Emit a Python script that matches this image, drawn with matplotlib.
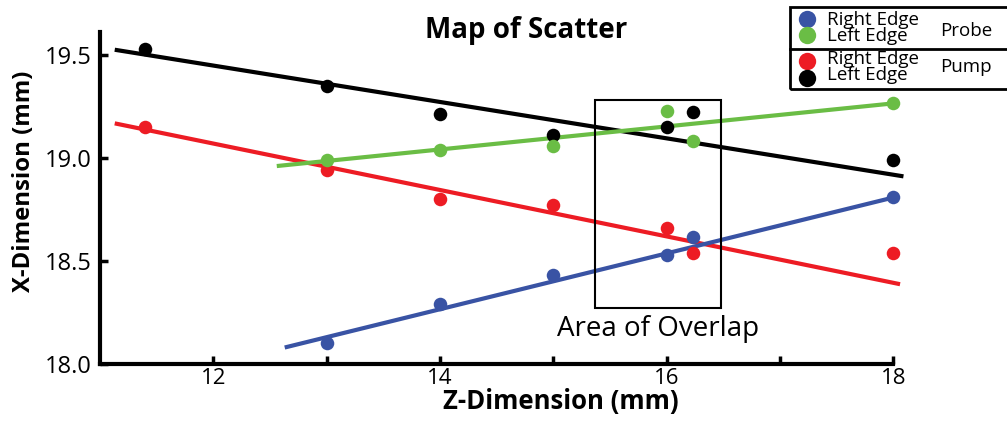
import matplotlib
matplotlib.use("Agg")
import matplotlib.pyplot as plt
from matplotlib.lines import Line2D
from matplotlib.patches import Rectangle

plt.rcParams['font.family'] = ['Open Sans', 'DejaVu Sans']

# measured points, z in mm -> x in mm
z_blue = [13, 14, 15, 16, 16.23, 18]
x_blue = [18.10, 18.29, 18.43, 18.53, 18.615, 18.81]
z_green = [13, 14, 15, 16, 16.23, 18]
x_green = [18.99, 19.04, 19.055, 19.225, 19.08, 19.265]
z_red = [11.4, 13, 14, 15, 16, 16.23, 18]
x_red = [19.15, 18.94, 18.80, 18.77, 18.66, 18.54, 18.54]
z_black = [11.4, 13, 14, 15, 16, 16.23, 18]
x_black = [19.53, 19.35, 19.21, 19.11, 19.15, 19.22, 18.99]

# fitted lines as drawn (start/end)
fit_blue = ([12.63, 18.02], [18.08, 18.81])
fit_green = ([12.56, 18.02], [18.96, 19.265])
fit_red = ([11.13, 18.06], [19.167, 18.387])
fit_black = ([11.13, 18.09], [19.524, 18.91])

overlap_z = [15.37, 16.48]
overlap_x = [18.274, 19.28]

legend_labels = ['Right Edge', 'Left Edge', 'Right Edge', 'Left Edge']
group_labels = ['Probe', 'Pump']

c_blue = '#3953a4'
c_green = '#6abd45'
c_red = '#ed1c24'
c_black = '#000000'

W, H = 1007, 424
fig = plt.figure(figsize=(W / 100, H / 100), dpi=100)
ax = fig.add_axes([0.0993, 0.1415, 0.799, 0.783])

series = [(z_red, x_red, fit_red, c_red),
          (z_black, x_black, fit_black, c_black),
          (z_blue, x_blue, fit_blue, c_blue),
          (z_green, x_green, fit_green, c_green)]
for z, x, fit, c in series:
    ax.plot(fit[0], fit[1], color=c, lw=3, solid_capstyle='butt', zorder=2)
    ax.scatter(z, x, s=95, color=c, zorder=3, linewidths=0)

ax.add_patch(Rectangle((overlap_z[0], overlap_x[0]), overlap_z[1] - overlap_z[0],
                       overlap_x[1] - overlap_x[0], fill=False, ec='black', lw=1.5, zorder=4))
ax.text(15.03, 18.135, 'Area of Overlap', fontsize=20, ha='left', va='baseline')

ax.set_xlim(11.0, 18.1)
ax.set_ylim(18.0, 19.61)
ax.spines['top'].set_visible(False)
ax.spines['right'].set_visible(False)
ax.spines['left'].set_linewidth(3)
ax.spines['bottom'].set_linewidth(3)
ax.spines['bottom'].set_bounds(11.0, 18.0)
ax.set_xticks([12, 14, 16, 18])
ax.set_xticks([13, 15, 17], minor=True)
ax.set_yticks([18.0, 18.5, 19.0, 19.5])
ax.set_yticklabels(['18.0', '18.5', '19.0', '19.5'])
ax.tick_params(which='both', direction='in', length=6, width=2.5, pad=6)
ax.tick_params(axis='x', labelsize=16, pad=3)
ax.tick_params(axis='y', labelsize=17)
ax.set_xlabel('Z-Dimension (mm)', fontsize=18.5, fontweight='bold', labelpad=0)
ax.xaxis.set_label_coords(0.573, -0.073)
ax.set_ylabel('X-Dimension (mm)', fontsize=17.2, fontweight='bold')
ax.yaxis.set_label_coords(-0.079, 0.551)
fig.text(526 / W, 1 - 38 / H, 'Map of Scatter', fontsize=20, fontweight='bold',
         ha='center', va='baseline')

# legend box drawn by hand
fig.add_artist(Rectangle((790 / W, 1 - 89 / H), 0.3, 82 / H, transform=fig.transFigure,
                         fill=False, ec='black', lw=2))
fig.add_artist(Line2D([790 / W, 1.0], [1 - 49 / H, 1 - 49 / H],
                      transform=fig.transFigure, color='black', lw=2))
leg_colors = [c_blue, c_green, c_red, c_black]
leg_y = [19, 35, 61, 78]
txt_y = [20, 36, 59, 75]
for lab, c, yp, ty in zip(legend_labels, leg_colors, leg_y, txt_y):
    fig.add_artist(Line2D([807 / W], [1 - yp / H], transform=fig.transFigure,
                          marker='o', ms=12.5, color=c, mew=0))
    fig.text(827 / W, 1 - ty / H, lab, fontsize=13.5, va='center', ha='left')
for lab, yp in zip(group_labels, [31, 67]):
    fig.text(940 / W, 1 - yp / H, lab, fontsize=13.5, va='center', ha='left')

fig.savefig('out.png', dpi=100)
